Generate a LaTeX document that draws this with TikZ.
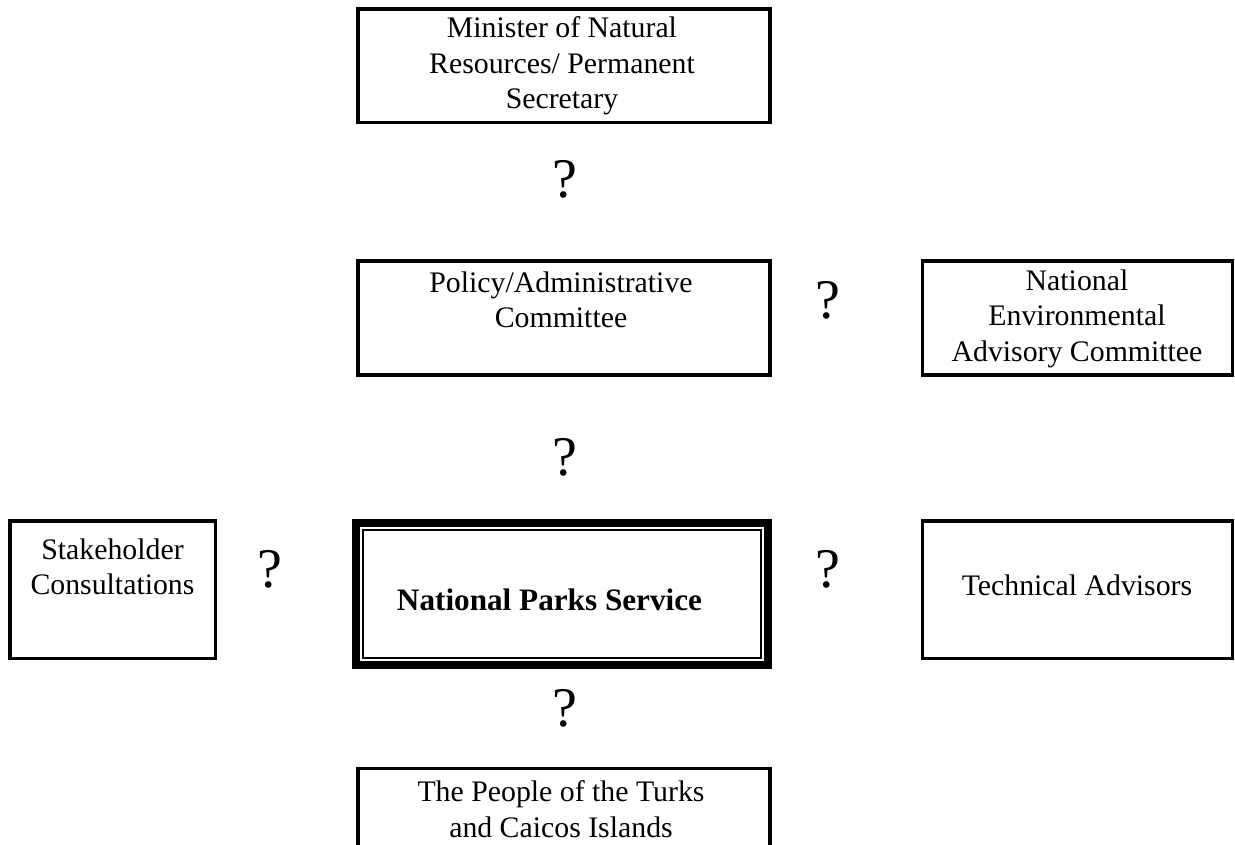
\documentclass[tikz,border=0pt]{standalone}
\usepackage{fontspec}
\setmainfont{Liberation Serif}
\usepackage{tikz}
\usetikzlibrary{fit,positioning}
\tikzset{
  unitbox/.style={draw=black,line width=3.4pt,inner sep=0pt,outer sep=0pt},
  parksbox/.style={draw=black,line width=2pt,inner sep=0pt,outer sep=0pt},
  parksframe/.style={draw=black,line width=8pt,inner sep=7pt,outer sep=0pt},
  unittext/.style={font=\fontsize{29.8}{35.5}\selectfont,align=center,
    anchor=base,inner sep=0pt},
  parkstext/.style={font=\fontsize{31.2}{36}\selectfont\bfseries,
    anchor=base,inner sep=0pt},
  linkmark/.style={font=\fontsize{56}{56}\selectfont,anchor=base,inner sep=0pt}
}
\begin{document}
\begin{tikzpicture}[x=1pt,y=-1pt]
  \useasboundingbox (0,0) rectangle (1235,845);
  \clip (0,0) rectangle (1235,845);
  % boxes
  \node[unitbox,minimum width=412pt,minimum height=113.5pt] (minister) at (564,65.75) {};
  \node[unitbox,minimum width=412pt,minimum height=114pt] (policy) at (564,318) {};
  \node[unitbox,minimum width=310.4pt,minimum height=114pt] (neac) at (1077.5,318) {};
  \node[unitbox,minimum width=205.7pt,minimum height=137.3pt] (stake) at (112.85,589.65) {};
  \node[unitbox,minimum width=310.4pt,minimum height=137.3pt] (tech) at (1077.5,589.65) {};
  \node[parksbox,minimum width=398pt,minimum height=128pt] (parks) at (562,594) {};
  \node[parksframe,fit=(parks)] (parksouter) {};
  \node[unitbox,minimum width=412pt,minimum height=131.7pt] (people) at (564,834.15) {};
  % texts (base = last line)
  \node[unittext] (ministertext) at (562,109) {Minister of Natural\\Resources/ Permanent\\Secretary};
  \node[unittext] (policytext) at (561,327.5) {Policy/Administrative\\Committee};
  \node[unittext] (neactext) at (1077,361) {National\\Environmental\\Advisory Committee};
  \node[unittext] (staketext) at (112.5,594.5) {Stakeholder\\Consultations};
  \node[unittext] (techtext) at (1077,595) {Technical Advisors};
  \node[parkstext] (parkstitle) at (549.5,610) {National Parks Service};
  \node[unittext] (peopletext) at (561,837) {The People of the Turks\\and Caicos Islands};
  % links
  \node[linkmark] (linkmin) at (565,198) {?};
  \node[linkmark] (linkneac) at (828,318) {?};
  \node[linkmark] (linkpol) at (565,475) {?};
  \node[linkmark] (linkstake) at (270,587) {?};
  \node[linkmark] (linktech) at (828,587) {?};
  \node[linkmark] (linkpeople) at (565,726) {?};
\end{tikzpicture}
\end{document}
